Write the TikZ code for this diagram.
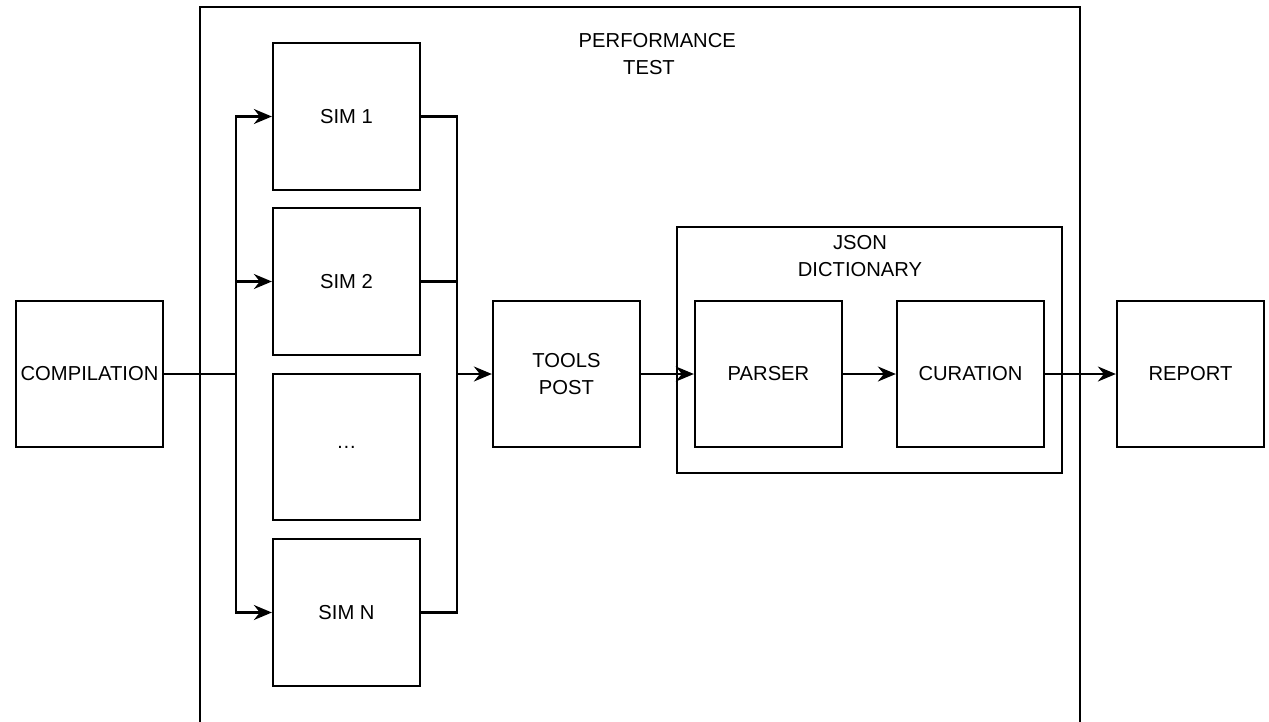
\documentclass[tikz,border=0pt]{standalone}
\usepackage{fontspec}
\setmainfont{Liberation Sans}
\usetikzlibrary{arrows.meta}

\begin{document}
\begin{tikzpicture}[x=0.02cm, y=-0.02cm, line width=1.3pt,
    >={Stealth[length=3.6mm,width=3mm,inset=1.2mm]},
    font=\fontsize{11.5}{15.4}\selectfont]
    \tikzstyle{block}=[rectangle,draw=black,minimum width=2.94cm,minimum height=2.93cm,inner sep=0pt,align=center]
    \tikzstyle{group}=[rectangle,draw=black,inner sep=0pt]
    \tikzstyle{annot}=[text width=8em, text centered]

    \useasboundingbox (0,0) rectangle (1269,721);

    % Draw the performance test frame (it runs off the bottom)
    \draw (200,7) rectangle (1080,760);
    \node[annot] (perf) at (649,54.5) {PERFORMANCE\\TEST};

    \node[block] (comp) at (89.5,374) {COMPILATION};

    % Draw the simulation nodes
    \foreach \name / \y / \txt in {1/116.5/SIM 1, 2/281.5/SIM 2, 3/447/\ldots, 4/612.5/SIM N}
        \node[block] (S-\name) at (346.5,\y) {\txt};

    \node[block] (tools) at (566.5,374) {TOOLS\\POST};

    % Draw the JSON dictionary group and its blocks
    \node[group, minimum width=7.7cm, minimum height=4.92cm] (json) at (869.5,350) {};
    \node[annot] (jl) at (860,256) {JSON\\DICTIONARY};
    \node[block] (parser) at (768.5,374) {PARSER};
    \node[block] (cur) at (970.5,374) {CURATION};

    \node[block] (report) at (1190.5,374) {REPORT};

    % Fan out from the compilation to the simulations
    \coordinate (fork) at (236,374);
    \draw (comp) -- (fork);
    \foreach \dest in {1,2,4}
        \draw[->] (fork) |- (S-\dest);

    % Gather the simulations into the post tools
    \coordinate (join) at (457,374);
    \foreach \source in {1,2,4}
        \draw (S-\source) -| (join);
    \draw[->] (join) -- (tools);

    \draw[->] (tools) -- (parser);
    \draw[->] (parser) -- (cur);
    \draw[->] (cur) -- (report);
\end{tikzpicture}
\end{document}
